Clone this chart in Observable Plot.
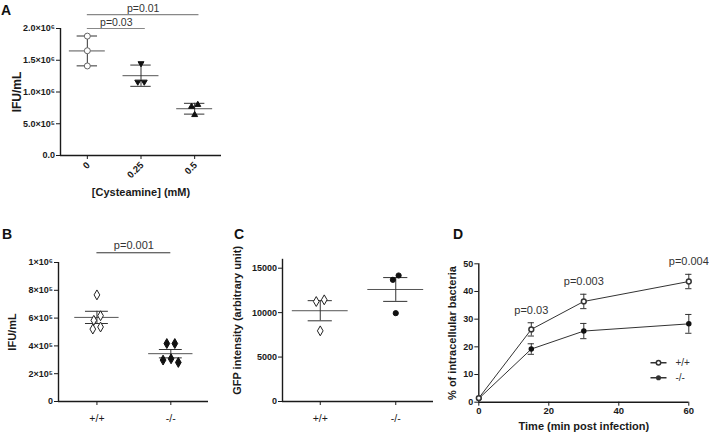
<!DOCTYPE html>
<html><head><meta charset="utf-8">
<script src="https://cdn.jsdelivr.net/npm/d3@7"></script>
<script src="https://cdn.jsdelivr.net/npm/@observablehq/plot@0.6"></script>
<style>
body{margin:0;background:#fff;}
#root{position:relative;width:709px;height:436px;overflow:hidden;background:#fff;}
#root svg{position:absolute;overflow:visible;}
</style></head><body><div id="root"></div>
<script>
// ---------- Panel A data ----------
const aCategories = ["0", "0.25", "0.5"];
const aDose0 = [1.88e6, 1.65e6, 1.41e6];
const aDose025 = [1.45e6, 1.16e6, 1.16e6];
const aDose05 = [0.80e6, 0.77e6, 0.64e6];
const aYTicks = [0, 5e5, 1e6, 1.5e6, 2e6];
const aYTickLabels = ["0.0", "5.0×10⁵", "1.0×10⁶", "1.5×10⁶", "2.0×10⁶"];
const aPLabels = ["p=0.03", "p=0.01"];
const aPFrom = ["0", "0"];
const aPTo = ["0.25", "0.5"];
const aPLevels = [2.0e6, 2.22e6];
// ---------- Panel B data ----------
const bCategories = ["+/+", "-/-"];
const bWT = [0.767e6, 0.617e6, 0.584e6, 0.536e6, 0.521e6];
const bKO = [0.417e6, 0.417e6, 0.307e6, 0.281e6, 0.298e6];
const bYTicks = [0, 2e5, 4e5, 6e5, 8e5, 1e6];
const bYTickLabels = ["0", "2×10⁵", "4×10⁵", "6×10⁵", "8×10⁵", "1×10⁶"];
const bPLabel = "p=0.001";
const bPLevel = 1.07e6;
// ---------- Panel C data ----------
const cCategories = ["+/+", "-/-"];
const cWT = [11440, 11250, 7950];
const cKO = [14180, 13690, 9940];
const cYTicks = [0, 5000, 10000, 15000];
// ---------- Panel D data ----------
const dTime = [0, 15, 30, 60];
const dWT = [1.5, 26.3, 36.4, 43.6];
const dWTErr = [0.4, 2.4, 2.6, 2.6];
const dKO = [1.3, 19.2, 25.7, 28.3];
const dKOErr = [0.3, 1.9, 2.75, 3.4];
const dSeries = ["+/+", "-/-"];
const dPLabels = ["p=0.03", "p=0.003", "p=0.004"];
const dXTicks = [0, 20, 40, 60];
const dYTicks = [0, 10, 20, 30, 40, 50];

const FONT = "'Liberation Sans', Arial, Helvetica, sans-serif";
const INK = "#1a1a1a";
const root = document.getElementById("root");

const triangleDown = {draw(ctx, size) {
  const y = -Math.sqrt(size / (Math.sqrt(3) * 3));
  ctx.moveTo(0, -y * 2); ctx.lineTo(-Math.sqrt(3) * y, y); ctx.lineTo(Math.sqrt(3) * y, y); ctx.closePath();
}};
const lineCircle = {draw(ctx, size) {
  const r = Math.sqrt(size / Math.PI);
  ctx.moveTo(-8, 0); ctx.lineTo(-r, 0); ctx.moveTo(r, 0); ctx.lineTo(8, 0);
  ctx.moveTo(r, 0); ctx.arc(0, 0, r, 0, 2 * Math.PI);
}};
const lineDot = {draw(ctx, size) {
  const r = Math.sqrt(size / Math.PI);
  ctx.moveTo(-8, 0); ctx.lineTo(8, 0);
  ctx.moveTo(r, 0); ctx.arc(0, 0, r, 0, 2 * Math.PI);
}};

function mean(v) { return d3.mean(v); }
function sd(v) { return d3.deviation(v); }
function sem(v) { return d3.deviation(v) / Math.sqrt(v.length); }

// horizontal spreading of overlapping points (pixel offsets)
function spreadOffsets(vals, ypx, r) {
  const n = vals.length, off = new Array(n).fill(0), placed = [];
  const order = d3.range(n).sort((a, b) => d3.descending(vals[a], vals[b]));
  const minD = 2 * r + 2;
  for (const i of order) {
    const yi = ypx(vals[i]);
    for (let k = 0; k < 400; k++) {
      const c = (k % 2 ? -1 : 1) * Math.ceil(k / 2) * 0.25;
      if (placed.every(j => Math.hypot(off[j] - c, ypx(vals[j]) - yi) >= minD)) { off[i] = c; break; }
    }
    placed.push(i);
  }
  let cluster = [order[0]];
  const flush = () => { const m = d3.mean(cluster, j => off[j]); cluster.forEach(j => off[j] -= m); };
  for (let t = 1; t < n; t++) {
    const a = order[t - 1], b = order[t];
    if (ypx(vals[b]) - ypx(vals[a]) < minD) cluster.push(b); else { flush(); cluster = [b]; }
  }
  flush();
  return off;
}

function place(svg, left, top) {
  svg.style.left = left + "px"; svg.style.top = top + "px";
  root.appendChild(svg);
}

const baseStyle = {fontFamily: FONT, fontWeight: "bold", color: INK, background: "transparent", overflow: "visible"};

// generic scatter panel
function scatterPanel(cfg) {
  const {width, height, mL, mR, mT, mB, xDomain, yDomain, groups, cats, errFn,
         meanHalf, capHalf, yTicks, yTickFormat, r} = cfg;
  const frameW = width - mL - mR;
  const pxPerUnit = frameW / (xDomain[1] - xDomain[0]);
  const ypx = d3.scaleLinear(yDomain, [height - mB, mT]);
  const stats = groups.map((g, i) => {
    const m = mean(g.values), e = errFn(g.values);
    return {i, mean: m, lo: m - e, hi: m + e};
  });
  const catRows = cats.map((c, i) => ({i, c}));
  const marks = [
    Plot.ruleX([xDomain[0]], {y1: yDomain[0], y2: yDomain[1], stroke: INK, strokeWidth: 1.4}),
    Plot.ruleY([yDomain[0]], {stroke: INK, strokeWidth: 1.4}),
    Plot.axisY({ticks: yTicks, tickFormat: yTickFormat, tickSize: 4, tickPadding: 1.5,
      label: null, fontSize: cfg.yTickFont || 9, fontWeight: "bold", stroke: INK, fill: INK}),
    Plot.axisX({ticks: d3.range(cats.length), tickFormat: cfg.xRotate ? (() => "") : (i => cats[i]), tickSize: 4,
      tickPadding: cfg.xTickPad ?? 5, label: null,
      fontSize: cfg.xTickFont || 10.5, fontWeight: cfg.xTickWeight || "normal", stroke: INK, fill: INK}),
    Plot.ruleY(stats, {y: "mean", x1: d => d.i - meanHalf, x2: d => d.i + meanHalf, stroke: "#555", strokeWidth: 1}),
    Plot.ruleX(stats, {x: "i", y1: "lo", y2: "hi", stroke: "#333", strokeWidth: 1}),
    Plot.ruleY(stats, {y: "hi", x1: d => d.i - capHalf, x2: d => d.i + capHalf, stroke: "#333", strokeWidth: 1}),
    Plot.ruleY(stats, {y: "lo", x1: d => d.i - capHalf, x2: d => d.i + capHalf, stroke: "#333", strokeWidth: 1})
  ];
  if (cfg.xRotate) {
    marks.push(Plot.text(catRows, {x: "i", y: () => yDomain[0], text: "c", rotate: cfg.xRotate,
      textAnchor: "end", lineAnchor: "middle", dx: 1, dy: 8, fontSize: cfg.xTickFont, fontWeight: "bold", fill: INK}));
  }
  groups.forEach((g, i) => {
    const off = spreadOffsets(g.values, ypx, g.r || r);
    const rows = g.values.map((v, k) => ({x: i + off[k] / pxPerUnit, v}));
    marks.push(Plot.dot(rows, {x: "x", y: "v", r: g.r || r, symbol: g.symbol, fill: g.fill, stroke: g.stroke, strokeWidth: 1}));
  });
  if (cfg.extra) marks.push(...cfg.extra);
  marks.push(Plot.text([cfg.yLabel], {frameAnchor: "left", dx: cfg.yLabelDx, dy: cfg.yLabelDy || 0, rotate: -90,
    textAnchor: "middle", lineAnchor: "middle", fontSize: cfg.yLabelFont || 11, fontWeight: "bold", fill: INK}));
  if (cfg.xLabel) marks.push(Plot.text([cfg.xLabel], {frameAnchor: "bottom", dy: cfg.xLabelDy,
    textAnchor: "middle", lineAnchor: "middle", fontSize: 11, fontWeight: "bold", fill: INK}));
  return Plot.plot({
    width, height, marginLeft: mL, marginRight: mR, marginTop: mT, marginBottom: mB,
    x: {domain: xDomain}, y: {domain: yDomain},
    style: baseStyle,
    marks
  });
}

// ---------- Panel A ----------
const aGroups = [
  {values: aDose0, symbol: "circle", fill: "white", stroke: "#666", r: 3},
  {values: aDose025, symbol: triangleDown, fill: "#111", stroke: "#111"},
  {values: aDose05, symbol: "triangle", fill: "#111", stroke: "#111"}
];
const aBrackets = aPLabels.map((p, k) => ({p, x1: aCategories.indexOf(aPFrom[k]), x2: aCategories.indexOf(aPTo[k]) + 0.08, y: aPLevels[k]}));
const svgA = scatterPanel({
  width: 240, height: 200, mL: 60, mR: 19, mT: 28, mB: 45,
  xDomain: [-0.5, 2.5], yDomain: [0, 2e6], groups: aGroups, cats: aCategories, errFn: sd,
  meanHalf: 0.335, capHalf: 0.19, r: 2.2,
  yTicks: aYTicks, yTickFormat: d => aYTickLabels[aYTicks.indexOf(d)], yTickFont: 9,
  xRotate: -45, xTickFont: 9.5, xTickWeight: "bold", xTickPad: 2,
  yLabel: "IFU/mL", yLabelDx: -43, yLabelFont: 12,
  xLabel: "[Cysteamine] (mM)", xLabelDy: 37,
  extra: [
    Plot.ruleY(aBrackets, {y: "y", x1: "x1", x2: "x2", stroke: "#888", strokeWidth: 1.2}),
    Plot.text(aBrackets, {x: d => (d.x1 + d.x2) / 2, y: "y", text: "p", dy: -2.5, lineAnchor: "bottom",
      fontSize: 10.5, fontWeight: "normal", fill: "#333"})
  ]
});
place(svgA, 0, 0);

// ---------- Panel B ----------
const bBracket = [{p: bPLabel, x1: 0, x2: 1, y: bPLevel}];
const svgB = scatterPanel({
  width: 230, height: 236, mL: 58, mR: 22, mT: 62, mB: 35,
  xDomain: [-0.52, 1.51], yDomain: [0, 1e6],
  groups: [
    {values: bWT, symbol: "diamond", fill: "white", stroke: "#222"},
    {values: bKO, symbol: "diamond", fill: "#111", stroke: "#111"}
  ],
  cats: bCategories, errFn: sem, meanHalf: 0.30, capHalf: 0.155, r: 3,
  yTicks: bYTicks, yTickFormat: d => bYTickLabels[bYTicks.indexOf(d)], yTickFont: 9,
  xTickPad: 9,
  yLabel: "IFU/mL", yLabelDx: -46,
  extra: [
    Plot.ruleY(bBracket, {y: "y", x1: "x1", x2: "x2", stroke: "#333", strokeWidth: 1}),
    Plot.text(bBracket, {x: d => (d.x1 + d.x2) / 2, y: "y", text: "p", dy: -4, lineAnchor: "bottom",
      fontSize: 11, fontWeight: "normal", fill: "#333"})
  ]
});
place(svgB, 0, 200);

// ---------- Panel C ----------
const svgC = scatterPanel({
  width: 230, height: 236, mL: 52, mR: 27, mT: 58.8, mB: 35,
  xDomain: [-0.5, 1.5], yDomain: [0, 16000],
  groups: [
    {values: cWT, symbol: "diamond", fill: "white", stroke: "#222"},
    {values: cKO, symbol: "circle", fill: "#111", stroke: "#111", r: 2.6}
  ],
  cats: cCategories, errFn: sem, meanHalf: 0.37, capHalf: 0.16, r: 3,
  yTicks: cYTicks, yTickFormat: d => String(d), yTickFont: 9,
  xTickPad: 9,
  yLabel: "GFP intensity (arbitrary unit)", yLabelDx: -45, yLabelDy: -10
});
place(svgC, 230, 200);

// ---------- Panel D ----------
const dRows = [];
dTime.forEach((t, k) => {
  dRows.push({s: dSeries[0], t, v: dWT[k], e: dWTErr[k]});
  dRows.push({s: dSeries[1], t, v: dKO[k], e: dKOErr[k]});
});
const dWTRows = dRows.filter(d => d.s === dSeries[0]);
const dKORows = dRows.filter(d => d.s === dSeries[1]);
const dErrRows = dRows.filter(d => d.t > 0);
const dPRows = dWTRows.slice(1).map((d, k) => ({...d, p: dPLabels[k]}));
const svgD = Plot.plot({
  width: 279, height: 236, marginLeft: 48.3, marginRight: 20.7, marginTop: 63.3, marginBottom: 34.3,
  x: {domain: [0, 60]}, y: {domain: [0, 50]},
  style: baseStyle,
  marks: [
    Plot.ruleX([0], {y1: 0, y2: 50, stroke: INK, strokeWidth: 1.4}),
    Plot.ruleY([0], {stroke: INK, strokeWidth: 1.4}),
    Plot.axisY({ticks: dYTicks, tickSize: 4, tickPadding: 1.5, label: null, fontSize: 9, fontWeight: "bold", stroke: INK, fill: INK}),
    Plot.axisX({ticks: dXTicks, tickSize: 4, tickPadding: 1.5, label: null, fontSize: 9.5, fontWeight: "bold", stroke: INK, fill: INK}),
    Plot.line(dRows, {x: "t", y: "v", z: "s", stroke: "#333", strokeWidth: 1}),
    Plot.ruleX(dErrRows, {x: "t", y1: d => d.v - d.e, y2: d => d.v + d.e, stroke: "#333"}),
    Plot.ruleY(dErrRows, {y: d => d.v + d.e, x1: d => d.t - 0.9, x2: d => d.t + 0.9, stroke: "#333"}),
    Plot.ruleY(dErrRows, {y: d => d.v - d.e, x1: d => d.t - 0.9, x2: d => d.t + 0.9, stroke: "#333"}),
    Plot.dot(dKORows, {x: "t", y: "v", r: 2, fill: "#111", stroke: "#111"}),
    Plot.dot(dWTRows, {x: "t", y: "v", r: 2.4, fill: "white", stroke: "#333"}),
    Plot.text(dPRows, {x: "t", y: d => d.v + d.e, text: "p", dy: -9, lineAnchor: "bottom", fontSize: 11, fontWeight: "normal", fill: "#333"}),
    Plot.dot([dSeries[0]], {frameAnchor: "bottom-right", dx: -30.3, dy: -39.4, symbol: lineCircle, r: 2.2, fill: "white", stroke: "#333"}),
    Plot.dot([dSeries[1]], {frameAnchor: "bottom-right", dx: -30.3, dy: -24.4, symbol: lineDot, r: 1.8, fill: "#111", stroke: "#333"}),
    Plot.text([dSeries[0]], {frameAnchor: "bottom-right", dx: -13.3, dy: -39.4, textAnchor: "start", lineAnchor: "middle", fontSize: 10, fontWeight: "normal", fill: "#333"}),
    Plot.text([dSeries[1]], {frameAnchor: "bottom-right", dx: -13.3, dy: -24.4, textAnchor: "start", lineAnchor: "middle", fontSize: 10, fontWeight: "normal", fill: "#333"}),
    Plot.text(["% of intracellular bacteria"], {frameAnchor: "left", dx: -26.3, rotate: -90, textAnchor: "middle", lineAnchor: "middle", fontSize: 11, fontWeight: "bold", fill: INK}),
    Plot.text(["Time (min post infection)"], {frameAnchor: "bottom", dy: 24, textAnchor: "middle", lineAnchor: "middle", fontSize: 11, fontWeight: "bold", fill: INK})
  ]
});
place(svgD, 430, 200);

// ---------- panel letters ----------
const letters = [["A", 1, 14.5], ["B", 2, 238.5], ["C", 234, 239], ["D", 453, 238.5]];
const ov = d3.create("svg").attr("width", 709).attr("height", 436).style("left", "0px").style("top", "0px").style("pointer-events", "none");
ov.selectAll("text").data(letters).join("text")
  .attr("x", d => d[1]).attr("y", d => d[2]).text(d => d[0])
  .attr("font-family", FONT).attr("font-weight", "bold").attr("font-size", 14).attr("fill", "#111");
root.appendChild(ov.node());
</script></body></html>
